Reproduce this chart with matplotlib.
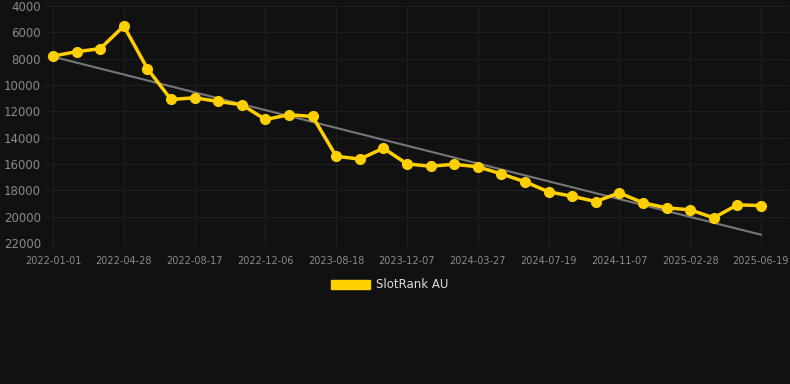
import matplotlib.pyplot as plt
import matplotlib.patches as mpatches
import numpy as np

# ranks, one per point (31 points)
rank = [7800, 7470, 7240, 5520, 8760, 11100, 10970, 11250, 11500, 12620,
        12260, 12390, 15410, 15630, 14800, 15990, 16170, 16020, 16210, 16750,
        17350, 18110, 18450, 18850, 18190, 18950, 19330, 19480, 20090, 19100,
        19160]
# labels shown on every third point
tick_labels = ["2022-01-01", "2022-04-28", "2022-08-17", "2022-12-06",
               "2023-08-18", "2023-12-07", "2024-03-27", "2024-07-19",
               "2024-11-07", "2025-02-28", "2025-06-19"]
y_ticks = [4000, 6000, 8000, 10000, 12000, 14000, 16000, 18000, 20000, 22000]

bg = "#111111"
yellow = "#FFD000"

x = np.arange(len(rank))
fit = np.polyfit(x, rank, 1)
trend = np.polyval(fit, x)

fig = plt.figure(figsize=(7.9, 3.84), dpi=100, facecolor=bg)
ax = fig.add_axes([45/790, 1-243/384, 744/790, 237/384], facecolor=bg)

ax.plot(x, trend, color="#777777", lw=1.5, zorder=2)
ax.plot(x, rank, color=yellow, lw=2.5, marker="o", ms=7, zorder=3)

ax.set_xlim(-0.34, 31.19)
ax.set_ylim(22000, 4000)
ax.set_yticks(y_ticks)
ax.set_xticks(x[::3])
ax.set_xticklabels(tick_labels)

ax.grid(True, color="#1f1f1f", lw=0.8)
ax.set_axisbelow(True)
for s in ax.spines.values():
    s.set_visible(False)
ax.tick_params(axis="y", length=0, pad=3, labelsize=8.5, labelcolor="#8a8a8a")
ax.tick_params(axis="x", length=3, color="#1f1f1f", pad=6, labelsize=7, labelcolor="#8a8a8a")

patch = mpatches.Patch(color=yellow, label="SlotRank AU")
fig.legend(handles=[patch], loc="center", bbox_to_anchor=(390/790, 1-285/384),
           frameon=False, fontsize=8.5, labelcolor="#dddddd",
           handlelength=3.3, handleheight=0.9, handletextpad=0.5)

fig.savefig("out.png", dpi=100, facecolor=bg)
